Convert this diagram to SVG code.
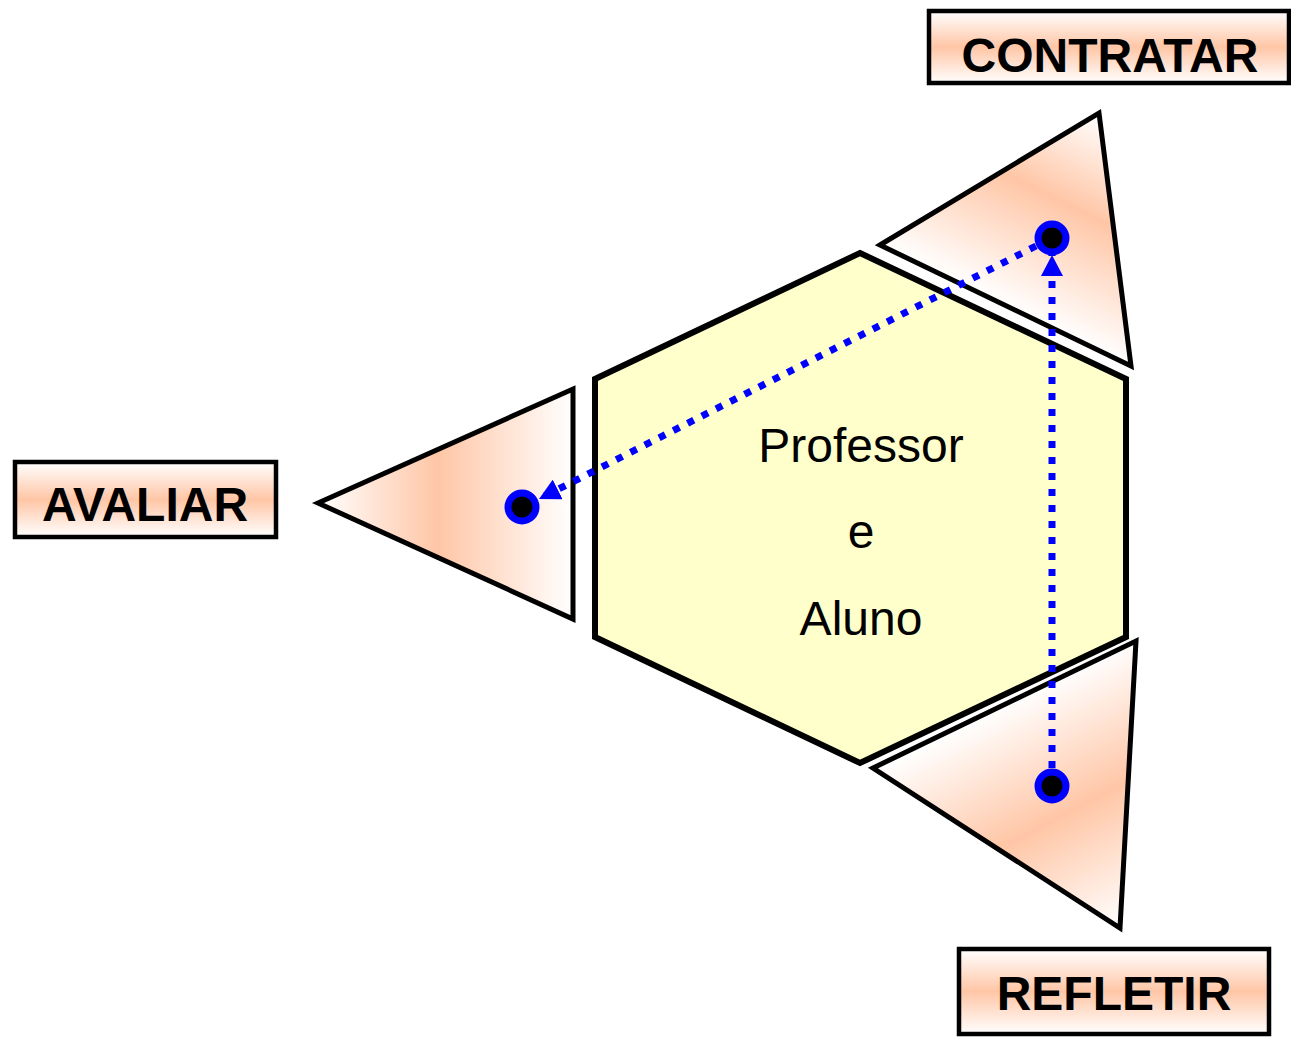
<svg xmlns="http://www.w3.org/2000/svg" width="1291" height="1038" viewBox="0 0 1291 1038">
<style>
.lbl{fill:url(#gv);stroke:#000;stroke-width:4.5}
.lt{font-family:"Liberation Sans",Arial,sans-serif;font-weight:bold;font-size:48px;fill:#000;text-anchor:middle}
.ct{font-family:"Liberation Sans",Arial,sans-serif;font-size:48px;fill:#000;text-anchor:middle}
.tri{stroke:#000;stroke-width:5;stroke-linejoin:miter}
.dot{fill:#000;stroke:#0000FF;stroke-width:7}
.con{fill:none;stroke:#0000FF;stroke-width:7;stroke-dasharray:7 9}
</style>
<defs>
<linearGradient id="gv" x1="0" y1="0" x2="0" y2="1">
<stop offset="0" stop-color="#fff"/><stop offset="0.5" stop-color="#FFC6A6"/><stop offset="1" stop-color="#fff"/>
</linearGradient>
<linearGradient id="gl" gradientUnits="userSpaceOnUse" x1="318" y1="0" x2="573" y2="0">
<stop offset="0" stop-color="#fff"/><stop offset="0.47" stop-color="#FFC6A6"/><stop offset="1" stop-color="#fff"/>
</linearGradient>
<linearGradient id="gt" gradientUnits="userSpaceOnUse" x1="1005" y1="305" x2="1099" y2="113">
<stop offset="0" stop-color="#fff"/><stop offset="0.55" stop-color="#FFC6A6"/><stop offset="1" stop-color="#fff"/>
</linearGradient>
<linearGradient id="gb" gradientUnits="userSpaceOnUse" x1="1004" y1="704" x2="1120" y2="928">
<stop offset="0" stop-color="#fff"/><stop offset="0.5" stop-color="#FFC6A6"/><stop offset="1" stop-color="#fff"/>
</linearGradient>
<marker id="ah" markerUnits="userSpaceOnUse" markerWidth="24" markerHeight="22" refX="21" refY="11" orient="auto">
<path d="M0,0 L21,11 L0,22 Z" fill="#0000FF"/>
</marker>
</defs>

<g id="hexagon">
<polygon points="860,253 1126,379 1126,637 860,763 595,637 595,379" fill="#FFFFCC" stroke="#000" stroke-width="6"/>
<text class="ct" x="861" y="462">Professor</text>
<text class="ct" x="861" y="548">e</text>
<text class="ct" x="861" y="635">Aluno</text>
</g>

<g id="tri-avaliar">
<polygon class="tri" points="318,503 573,389 573,619" fill="url(#gl)"/>
</g>
<g id="tri-contratar">
<polygon class="tri" points="880,245 1099,113 1131,366" fill="url(#gt)"/>
</g>
<g id="tri-refletir">
<polygon class="tri" points="873,768 1136,641 1120,928" fill="url(#gb)"/>
</g>

<g id="label-contratar">
<rect class="lbl" x="929" y="11" width="360" height="72"/>
<text class="lt" x="1110" y="72">CONTRATAR</text>
</g>
<g id="label-avaliar">
<rect class="lbl" x="15" y="462" width="261" height="75"/>
<text class="lt" x="145" y="521">AVALIAR</text>
</g>
<g id="label-refletir">
<rect class="lbl" x="959" y="949" width="310" height="85"/>
<text class="lt" x="1114" y="1010">REFLETIR</text>
</g>

<g id="connectors">
<line class="con" x1="1036" y1="246" x2="539" y2="499" marker-end="url(#ah)"/>
<line class="con" x1="1052" y1="768" x2="1052" y2="255" marker-end="url(#ah)"/>
</g>

<g id="dots">
<circle class="dot" cx="522" cy="507" r="14"/>
<circle class="dot" cx="1052" cy="238" r="14"/>
<circle class="dot" cx="1052" cy="786" r="14"/>
</g>
</svg>
